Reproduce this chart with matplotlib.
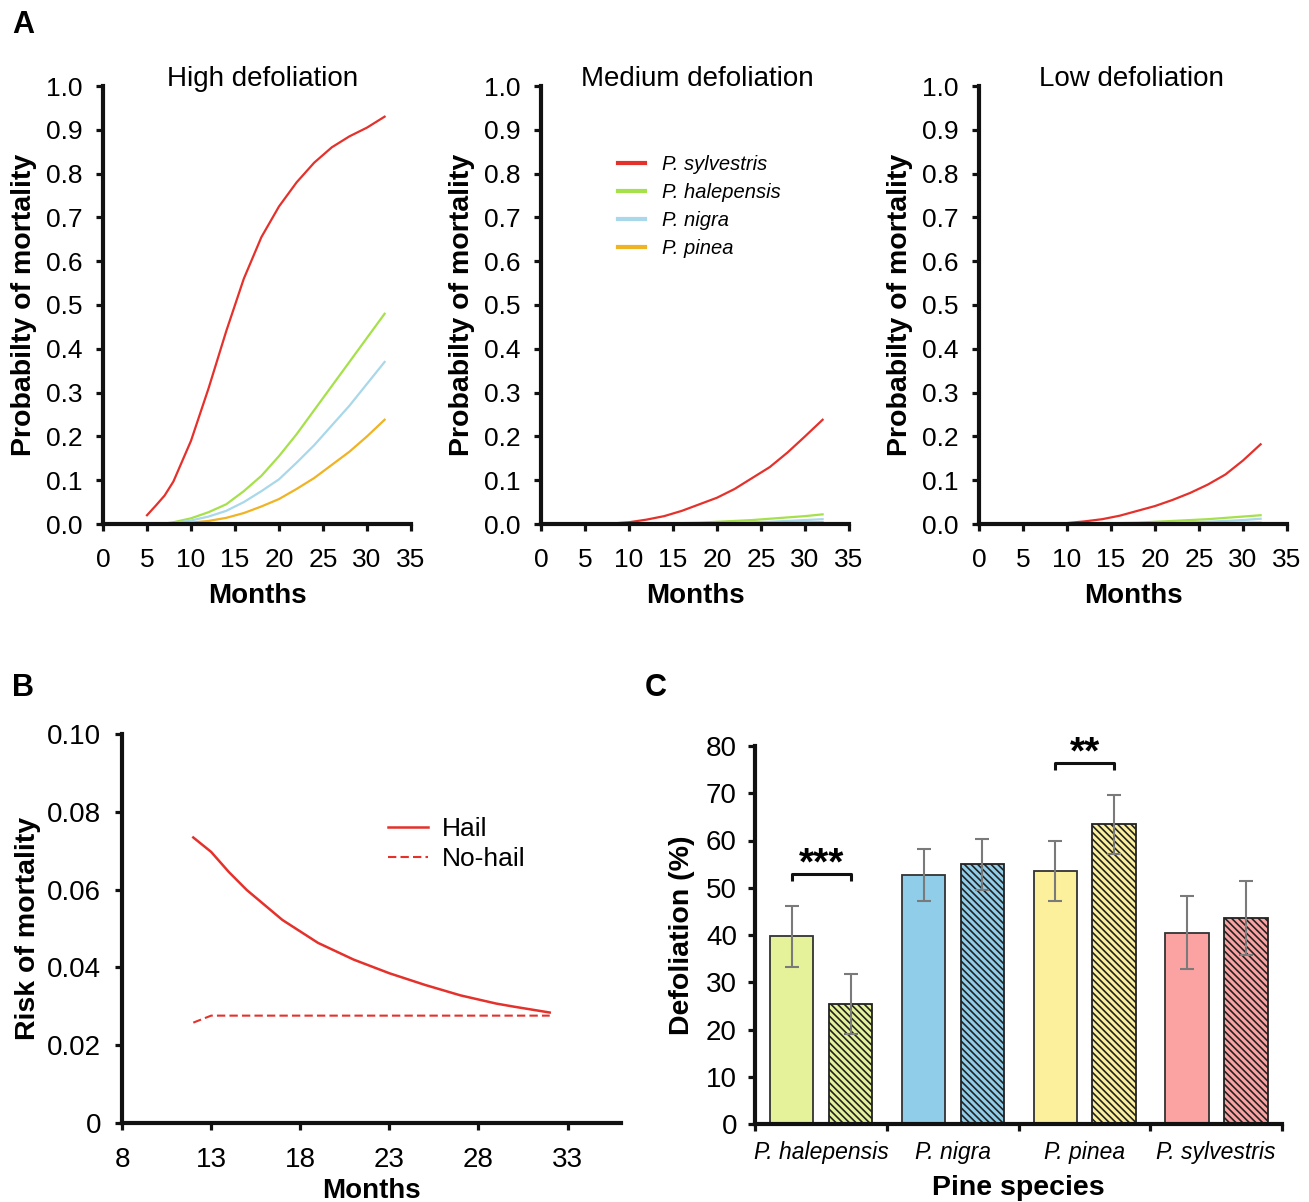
import numpy as np
import matplotlib
matplotlib.use("Agg")
import matplotlib.pyplot as plt

plt.rcParams['font.family'] = ['Liberation Sans', 'DejaVu Sans']
plt.rcParams['hatch.linewidth'] = 1.2
NARROW = ['Liberation Sans Narrow', 'Liberation Sans', 'DejaVu Sans']

# ---- panel A data ----
months_a = [5, 6, 7, 8, 10, 12, 14, 16, 18, 20, 22, 24, 26, 28, 30, 32]
species = ['P. sylvestris', 'P. halepensis', 'P. nigra', 'P. pinea']
sp_colors = ['#e4312b', '#a6e04a', '#a8d8ea', '#f0b323']

high_sylv = [0.02, 0.042, 0.065, 0.097, 0.19, 0.31, 0.44, 0.56, 0.655, 0.725, 0.78, 0.825, 0.86, 0.885, 0.905, 0.93]
high_hal = [0, 0, 0.001, 0.004, 0.013, 0.027, 0.045, 0.075, 0.11, 0.155, 0.205, 0.26, 0.315, 0.37, 0.425, 0.48]
high_nig = [0, 0, 0, 0.002, 0.008, 0.017, 0.03, 0.05, 0.075, 0.102, 0.14, 0.18, 0.225, 0.27, 0.32, 0.37]
high_pin = [0, 0, 0, 0.001, 0.003, 0.007, 0.014, 0.025, 0.04, 0.057, 0.08, 0.105, 0.135, 0.165, 0.2, 0.238]

med_sylv = [0, 0, 0, 0.001, 0.004, 0.01, 0.018, 0.03, 0.045, 0.06, 0.08, 0.105, 0.13, 0.163, 0.2, 0.238]
med_hal = [0, 0, 0, 0, 0, 0.0005, 0.001, 0.002, 0.003, 0.005, 0.007, 0.009, 0.012, 0.015, 0.018, 0.022]
med_nig = [0, 0, 0, 0, 0, 0, 0.0005, 0.001, 0.0015, 0.002, 0.003, 0.004, 0.005, 0.007, 0.009, 0.011]
med_pin = [0, 0, 0, 0, 0, 0, 0, 0, 0.0005, 0.001, 0.0015, 0.002, 0.0025, 0.003, 0.0035, 0.004]

low_sylv = [0, 0, 0, 0, 0.002, 0.006, 0.011, 0.019, 0.03, 0.041, 0.055, 0.071, 0.09, 0.113, 0.145, 0.182]
low_hal = [0, 0, 0, 0, 0, 0.0005, 0.001, 0.002, 0.003, 0.005, 0.007, 0.009, 0.011, 0.014, 0.017, 0.02]
low_nig = [0, 0, 0, 0, 0, 0, 0.0005, 0.001, 0.0015, 0.002, 0.003, 0.004, 0.005, 0.007, 0.009, 0.012]
low_pin = [0, 0, 0, 0, 0, 0, 0, 0, 0.0005, 0.001, 0.001, 0.0015, 0.002, 0.002, 0.0025, 0.003]

panels_a = [
    ('High defoliation', [high_sylv, high_hal, high_nig, high_pin]),
    ('Medium defoliation', [med_sylv, med_hal, med_nig, med_pin]),
    ('Low defoliation', [low_sylv, low_hal, low_nig, low_pin]),
]

# ---- panel B data ----
months_b = [12, 13, 14, 15, 17, 19, 21, 23, 25, 27, 29, 30, 32]
risk_hail = [0.0734, 0.0697, 0.0645, 0.0599, 0.0522, 0.0463, 0.0420, 0.0385, 0.0355, 0.0328, 0.0307, 0.0299, 0.0284]
risk_nohail = [0.0258, 0.0276, 0.0276, 0.0276, 0.0276, 0.0276, 0.0276, 0.0276, 0.0276, 0.0276, 0.0276, 0.0276, 0.0276]

# ---- panel C data ----
pines = ['P. halepensis', 'P. nigra', 'P. pinea', 'P. sylvestris']
pine_colors = ['#e5f29a', '#8fcde9', '#fcf09c', '#fba3a3']
defol_plain = [39.7, 52.6, 53.6, 40.5]
err_plain = [6.4, 5.5, 6.3, 7.7]
defol_hatch = [25.4, 55.0, 63.4, 43.6]
err_hatch = [6.3, 5.4, 6.3, 7.8]
signif = [(0, '***', 53.0), (2, '**', 76.5)]

W, H = 1309, 1202
fig = plt.figure(figsize=(W / 100, H / 100), dpi=100)


def style_axes(ax):
    for s in ['top', 'right']:
        ax.spines[s].set_visible(False)
    for s in ['left', 'bottom']:
        ax.spines[s].set_linewidth(3)
        ax.spines[s].set_color('#111111')
    ax.tick_params(axis='both', which='major', direction='out', length=5,
                   width=2.3, color='#111111', pad=10)


# Panel A
lefts = [103, 541, 979]
title_x = [0.517, 0.507, 0.494]
for i, (title, series) in enumerate(panels_a):
    ax = fig.add_axes([lefts[i] / W, 1 - 524 / H, 308 / W, 438 / H])
    for vals, col, name in zip(series, sp_colors, species):
        ax.plot(months_a, vals, color=col, lw=1.6, label=name)
    ax.set_xlim(0, 35)
    ax.set_ylim(0, 1.0)
    ax.set_xticks(np.arange(0, 36, 5))
    ax.set_yticks(np.arange(0, 1.01, 0.1))
    ax.set_yticklabels([f'{v:.1f}' for v in np.arange(0, 1.01, 0.1)])
    style_axes(ax)
    ax.tick_params(labelsize=19)
    ax.tick_params(axis='x', pad=12)
    ax.text(title_x[i], 1.016, title, transform=ax.transAxes, fontsize=20,
            ha='center', va='center')
    ax.set_xlabel('Months', fontsize=20, fontweight='bold', labelpad=8)
    ax.set_ylabel('Probabilty of mortality', fontsize=20.5, fontweight='bold', labelpad=6)
    if i == 1:
        ax.legend(loc='upper left', bbox_to_anchor=(0.25, 0.843), frameon=False,
                  prop={'style': 'italic', 'size': 14.5}, handlelength=1.35,
                  handletextpad=0.85, labelspacing=0.45, borderpad=0,
                  borderaxespad=0)
        for ln in ax.get_legend().get_lines():
            ln.set_linewidth(3)

fig.text(12 / W, 1 - 25 / H, 'A', fontsize=22, fontweight='bold', va='center')
fig.text(12 / W, 1 - 688 / H, 'B', fontsize=22, fontweight='bold', va='center')
fig.text(645 / W, 1 - 688 / H, 'C', fontsize=22, fontweight='bold', va='center')

# Panel B
axb = fig.add_axes([122 / W, 1 - 1123 / H, 499 / W, 389 / H])
axb.plot(months_b, risk_hail, color='#e4312b', lw=1.8, label='Hail')
axb.plot(months_b, risk_nohail, color='#e4312b', lw=1.5, ls=(0, (4, 2)), label='No-hail')
axb.set_xlim(8, 36)
axb.set_ylim(0, 0.1)
axb.set_xticks([8, 13, 18, 23, 28, 33])
axb.set_yticks([0, 0.02, 0.04, 0.06, 0.08, 0.10])
axb.set_yticklabels(['0', '0.02', '0.04', '0.06', '0.08', '0.10'])
style_axes(axb)
axb.tick_params(axis='x', pad=12)
for lab in axb.get_xticklabels() + axb.get_yticklabels():
    lab.set_family(NARROW)
    lab.set_fontsize(20)
axb.set_xlabel('Months', fontsize=20, fontweight='bold', labelpad=4)
axb.set_ylabel('Risk of mortality', fontsize=20.5, fontweight='bold', labelpad=4)
axb.legend(loc='upper left', bbox_to_anchor=(0.533, 0.787), frameon=False,
           prop={'family': NARROW, 'size': 19}, handlelength=1.5,
           handletextpad=0.55, labelspacing=0.25, borderpad=0, borderaxespad=0)

# Panel C
axc = fig.add_axes([755 / W, 1 - 1124 / H, 527 / W, 378 / H])
grp = np.arange(len(pines))
bw = 0.33
x1 = grp + 0.279
x2 = grp + 0.725
axc.bar(x1, defol_plain, width=bw, color=pine_colors, edgecolor='#333333', lw=1.3, zorder=2)
axc.bar(x2, defol_hatch, width=bw, color=pine_colors, edgecolor='#222222', lw=1.3,
        hatch='\\\\\\\\\\', zorder=2)
axc.errorbar(x1, defol_plain, yerr=err_plain, fmt='none', ecolor='#7a7a7a',
             elinewidth=1.5, capsize=5, capthick=1.5, zorder=3)
axc.errorbar(x2, defol_hatch, yerr=err_hatch, fmt='none', ecolor='#7a7a7a',
             elinewidth=1.5, capsize=5, capthick=1.5, zorder=3)
for g, stars, yb in signif:
    axc.plot([x1[g], x1[g], x2[g], x2[g]], [yb - 1.5, yb, yb, yb - 1.5],
             color='#111111', lw=2.2, solid_capstyle='butt', clip_on=False)
    axc.text((x1[g] + x2[g]) / 2, yb - 1.8, stars, ha='center', va='bottom',
             fontsize=28, fontweight='bold')
axc.set_xlim(0, 4)
axc.set_ylim(0, 80)
axc.set_yticks(np.arange(0, 81, 10))
axc.set_xticks(np.arange(0, 5))
axc.set_xticks(grp + 0.5, minor=True)
axc.set_xticklabels([])
axc.set_xticklabels(pines, minor=True, fontstyle='italic', family=NARROW, fontsize=16.5)
style_axes(axc)
axc.tick_params(axis='y', pad=8)
axc.tick_params(axis='x', which='minor', length=0, pad=12)
for lab in axc.get_yticklabels():
    lab.set_family(NARROW)
    lab.set_fontsize(20)
axc.set_xlabel('Pine species', fontsize=20.5, fontweight='bold', labelpad=8)
axc.set_ylabel('Defoliation (%)', fontsize=20.5, fontweight='bold', labelpad=8)

fig.savefig('out.png', dpi=100)
